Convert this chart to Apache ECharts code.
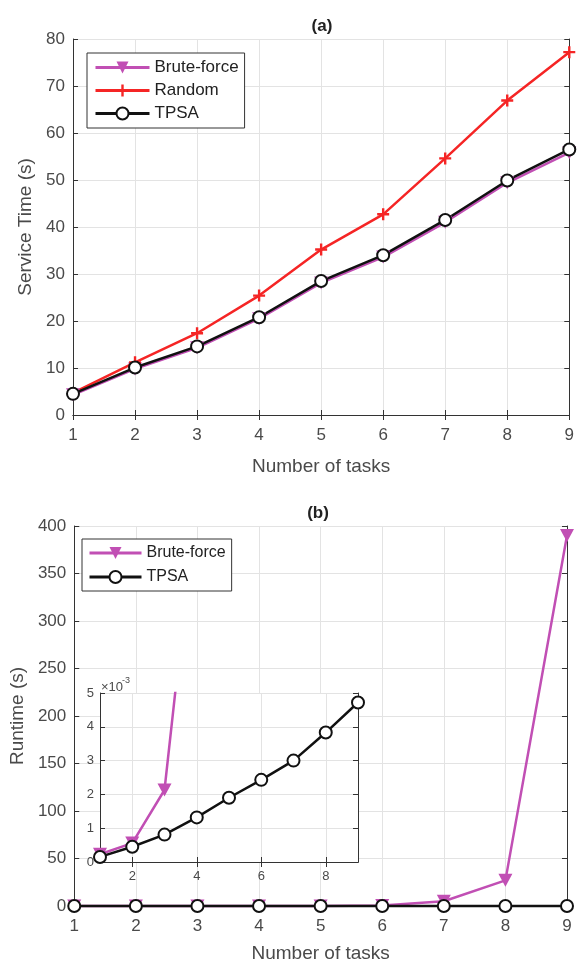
<!DOCTYPE html>
<html>
<head>
<meta charset="utf-8">
<script src="https://cdn.jsdelivr.net/npm/echarts@6/dist/echarts.min.js"></script>
<style>
  html, body { margin: 0; padding: 0; background: #fff; }
  #main { width: 577px; height: 964px; }
</style>
</head>
<body>
<div id="main"></div>
<script>
// number of tasks (x axis of both panels)
var tasks = [1, 2, 3, 4, 5, 6, 7, 8, 9];

// (a) service time, seconds
var svcBrute  = [4.3, 9.8, 14.3, 20.5, 28.1, 33.6, 41.0, 49.4, 55.8];
var svcRandom = [4.7, 11.2, 17.4, 25.4, 35.2, 42.7, 54.6, 66.9, 77.2];
var svcTpsa   = [4.5, 10.1, 14.6, 20.8, 28.5, 34.0, 41.5, 49.9, 56.5];

// (b) runtime, seconds
var rtBrute = [0.00023, 0.00056, 0.00213, 0.0108, 0.07, 0.6, 5, 27, 390];
var rtTpsa  = [0.00015, 0.00045, 0.00081, 0.00132, 0.0019, 0.00243, 0.0030, 0.00383, 0.00472];

var MAGENTA = '#c14fb4', RED = '#f52525', BLACK = '#111';
var FONT = 'Liberation Sans, Arial, Helvetica, sans-serif';
var TRI_DOWN = 'path://M0,0 L10,0 L5,9 Z';
var PLUS = 'path://M4,0 L6,0 L6,4 L10,4 L10,6 L6,6 L6,10 L4,10 L4,6 L0,6 L0,4 L4,4 Z';

function pairs(ys, scale) {
  return tasks.map(function (t, i) { return [t, ys[i] * (scale || 1)]; });
}

var axisLine = { show: true, lineStyle: { color: '#333', width: 1 } };
var tick = { show: true, inside: true, length: 5, lineStyle: { color: '#333' } };
var grid = { show: true, lineStyle: { color: '#e3e3e3', width: 1 } };
var lbl = { color: '#4a4a4a', fontSize: 17, fontFamily: FONT };
var nameStyle = { color: '#4a4a4a', fontSize: 19, fontFamily: FONT };

function xMain(gi, name, gap) {
  return [{
    type: 'value', gridIndex: gi, min: 1, max: 9, interval: 1, position: 'bottom',
    axisLine: axisLine, axisTick: tick, splitLine: grid,
    axisLabel: Object.assign({ margin: 12 }, lbl),
    name: name, nameLocation: 'middle', nameGap: gap, nameTextStyle: nameStyle
  }, {
    type: 'value', gridIndex: gi, min: 1, max: 9, interval: 1, position: 'top',
    axisLine: axisLine, axisTick: tick, splitLine: { show: false }, axisLabel: { show: false }
  }];
}
function yMain(gi, max, interval, name, gap) {
  return [{
    type: 'value', gridIndex: gi, min: 0, max: max, interval: interval, position: 'left',
    axisLine: axisLine, axisTick: tick, splitLine: grid,
    axisLabel: Object.assign({ margin: 8 }, lbl),
    name: name, nameLocation: 'middle', nameGap: gap, nameTextStyle: nameStyle
  }, {
    type: 'value', gridIndex: gi, min: 0, max: max, interval: interval, position: 'right',
    axisLine: axisLine, axisTick: tick, splitLine: { show: false }, axisLabel: { show: false }
  }];
}

var evenOnly = function (i) { return i % 2 === 1; };
var insetCats = tasks.map(String);
var insetLbl = { color: '#4a4a4a', fontSize: 13, fontFamily: FONT };

var xAxes = [].concat(
  xMain(0, 'Number of tasks', 42),
  xMain(1, 'Number of tasks', 38),
  [{
    type: 'category', gridIndex: 2, data: insetCats, boundaryGap: false, position: 'bottom',
    axisLine: axisLine, axisTick: Object.assign({ interval: evenOnly, alignWithLabel: true }, tick),
    splitLine: Object.assign({ interval: evenOnly }, grid),
    axisLabel: Object.assign({ interval: evenOnly, margin: 8 }, insetLbl), z: 5
  }, {
    type: 'category', gridIndex: 2, data: insetCats, boundaryGap: false, position: 'top',
    axisLine: axisLine, axisTick: Object.assign({ interval: evenOnly }, tick),
    splitLine: { show: false }, axisLabel: { show: false }, z: 5
  }]
);
var yAxes = [].concat(
  yMain(0, 80, 10, 'Service Time (s)', 36),
  yMain(1, 400, 50, 'Runtime (s)', 42),
  [{
    type: 'value', gridIndex: 2, min: 0, max: 5, interval: 1, position: 'left',
    axisLine: axisLine, axisTick: tick, splitLine: grid,
    axisLabel: Object.assign({ margin: 6 }, insetLbl), z: 5
  }, {
    type: 'value', gridIndex: 2, min: 0, max: 5, interval: 1, position: 'right',
    axisLine: axisLine, axisTick: tick, splitLine: { show: false }, axisLabel: { show: false }, z: 5
  }]
);

function bruteSeries(name, x, y, data, clip) {
  return {
    name: name, type: 'line', xAxisIndex: x, yAxisIndex: y, data: data, clip: clip,
    symbol: TRI_DOWN, symbolSize: [14, 13], itemStyle: { color: MAGENTA },
    lineStyle: { color: MAGENTA, width: 2.5 }, animation: false
  };
}
function tpsaSeries(name, x, y, data, clip) {
  return {
    name: name, type: 'line', xAxisIndex: x, yAxisIndex: y, data: data, clip: clip,
    symbol: 'emptyCircle', symbolSize: 12, itemStyle: { color: BLACK, borderWidth: 2.5 },
    lineStyle: { color: BLACK, width: 2.5 }, animation: false
  };
}

var insetX = 4, insetY = 4;
var series = [
  bruteSeries('Brute-force', 0, 0, pairs(svcBrute), false),
  {
    name: 'Random', type: 'line', xAxisIndex: 0, yAxisIndex: 0, data: pairs(svcRandom), clip: false,
    symbol: PLUS, symbolSize: 12, itemStyle: { color: RED },
    lineStyle: { color: RED, width: 2.5 }, animation: false
  },
  tpsaSeries('TPSA', 0, 0, pairs(svcTpsa), false),
  bruteSeries('Brute-force', 2, 2, pairs(rtBrute), false),
  tpsaSeries('TPSA', 2, 2, pairs(rtTpsa), false),
  // inset, in units of 1e-3 s
  Object.assign(bruteSeries('Brute-force inset', insetX, insetY, rtBrute.map(function (v) { return v * 1000; }), true), { z: 6 }),
  Object.assign(tpsaSeries('TPSA inset', insetX, insetY, rtTpsa.map(function (v) { return v * 1000; }), true), { z: 6 })
];

var legendBase = {
  orient: 'vertical', itemHeight: 15,
  borderColor: '#333', borderWidth: 1, backgroundColor: '#fff', borderRadius: 0,
  lineStyle: { width: 3 }
};

var chart = echarts.init(document.getElementById('main'));
chart.setOption({
  backgroundColor: '#fff',
  animation: false,
  grid: [
    { left: 73, right: 6, top: 39, height: 376 },
    { left: 69, right: 10, top: 526, height: 386 },
    { left: 100, width: 258, top: 693, height: 169, show: true, backgroundColor: '#fff', borderWidth: 0, z: 4 }
  ],
  xAxis: xAxes,
  yAxis: yAxes,
  legend: [Object.assign({
    data: ['Brute-force', 'Random', 'TPSA'], left: 87, top: 53,
    itemWidth: 54, itemGap: 6, padding: [6, 6, 6, 7],
    textStyle: { color: '#222', fontSize: 17, fontFamily: FONT }
  }, legendBase), Object.assign({
    data: ['Brute-force', 'TPSA'], left: 82, top: 539,
    itemWidth: 52, itemGap: 8, padding: [6, 6, 6, 6],
    textStyle: { color: '#222', fontSize: 16, fontFamily: FONT }
  }, legendBase)],
  graphic: [
    { type: 'text', x: 322, y: 26, style: { text: '(a)', textAlign: 'center', textVerticalAlign: 'middle', font: 'bold 17px ' + FONT, fill: '#222' } },
    { type: 'text', x: 318, y: 513, style: { text: '(b)', textAlign: 'center', textVerticalAlign: 'middle', font: 'bold 17px ' + FONT, fill: '#222' } },
    { type: 'text', x: 101, y: 687, z: 10, style: { text: '×10', textVerticalAlign: 'middle', font: '13px ' + FONT, fill: '#4a4a4a' } },
    { type: 'text', x: 122, y: 681, z: 10, style: { text: '-3', textVerticalAlign: 'middle', font: '9px ' + FONT, fill: '#4a4a4a' } }
  ],
  series: series
});
</script>
</body>
</html>
